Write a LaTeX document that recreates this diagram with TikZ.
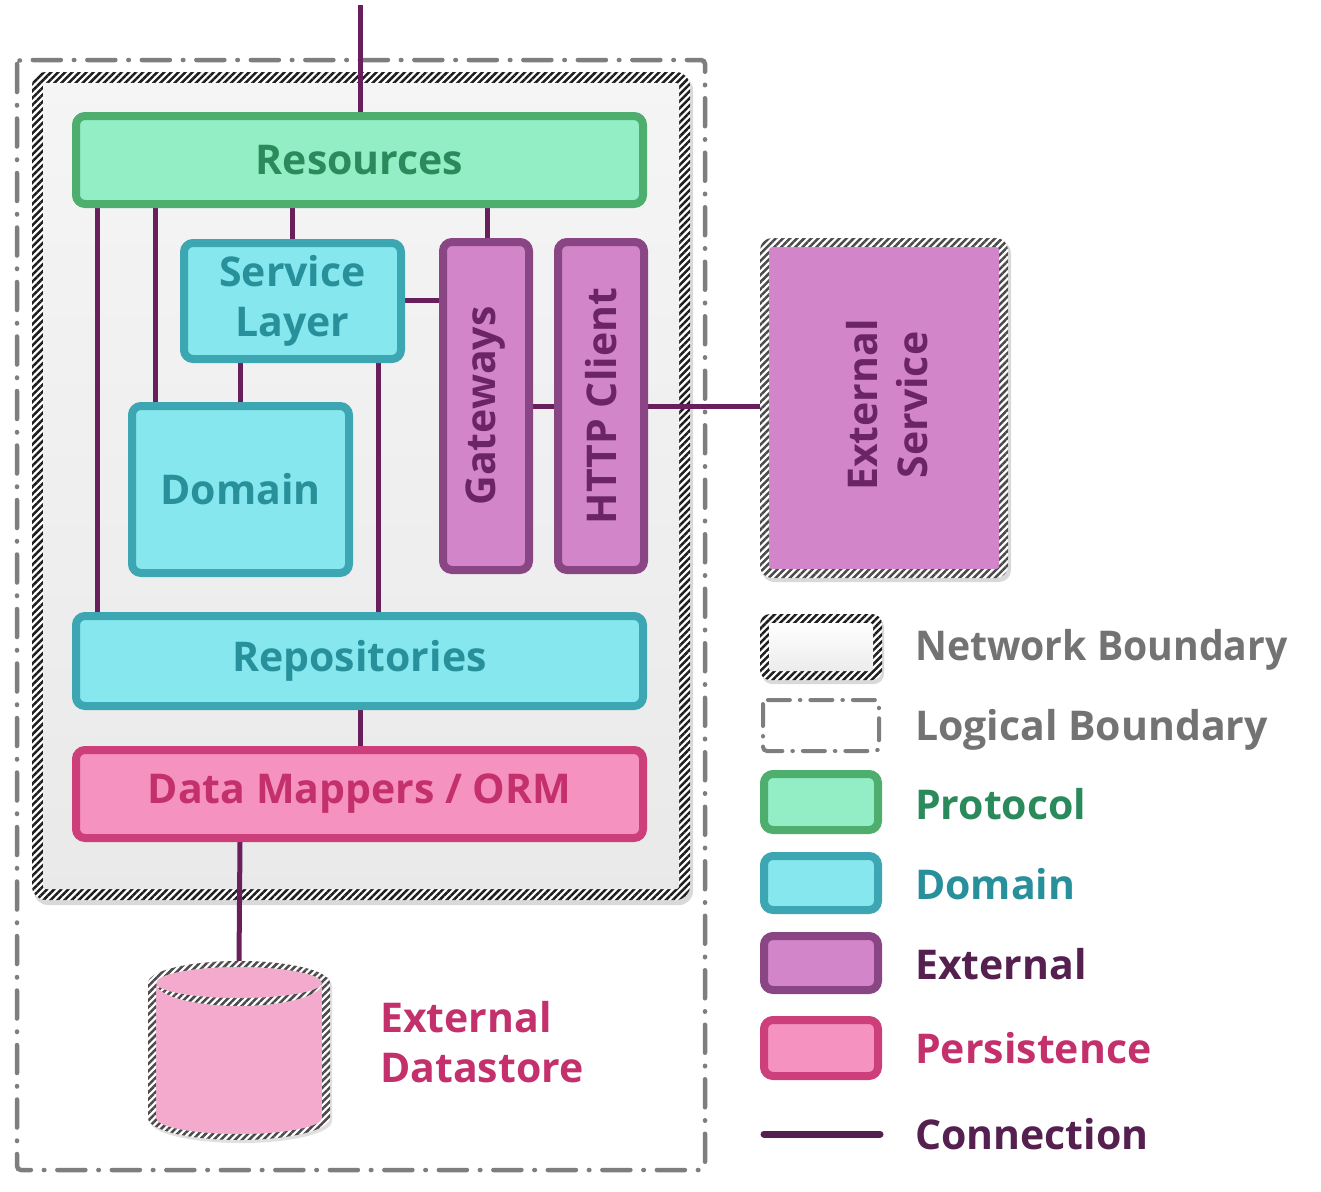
\documentclass[tikz,border=0pt]{standalone}
\usepackage{fontspec}
\setmainfont{Open Sans}
\usetikzlibrary{patterns.meta,shadows}
\definecolor{protoFill}{HTML}{93EDC5}
\definecolor{protoLine}{HTML}{4DAE6E}
\definecolor{protoText}{HTML}{2B8A5B}
\definecolor{domFill}{HTML}{86E8EE}
\definecolor{domLine}{HTML}{3CA6B2}
\definecolor{domText}{HTML}{28909A}
\definecolor{extFill}{HTML}{D385C9}
\definecolor{extLine}{HTML}{8A4585}
\definecolor{extText}{HTML}{6B2566}
\definecolor{extDark}{HTML}{55204F}
\definecolor{perFill}{HTML}{F592BF}
\definecolor{perLine}{HTML}{CD3F7A}
\definecolor{perText}{HTML}{C3306C}
\definecolor{dbFill}{HTML}{F3AACD}
\definecolor{connCol}{HTML}{6A1F5D}
\definecolor{logicCol}{HTML}{7E7E7E}
\definecolor{legendGray}{HTML}{737373}
\definecolor{hatchCol}{HTML}{1E1E1E}
\pgfdeclarelayer{bg}\pgfdeclarelayer{cn}\pgfsetlayers{bg,cn,main}
\newcommand{\hatchrect}[7]{%
  \fill[white, even odd rule, rounded corners=#6pt] (#1,#2) rectangle (#3,#4) [rounded corners=3pt] ({#1+#5},{#2+#5}) rectangle ({#3-#5},{#4-#5});
  \fill[pattern={Lines[angle=45,distance=5pt,line width=2.5pt]}, pattern color=#7, even odd rule, rounded corners=#6pt] (#1,#2) rectangle (#3,#4) [rounded corners=3pt] ({#1+#5},{#2+#5}) rectangle ({#3-#5},{#4-#5});
}
\begin{document}
\begin{tikzpicture}[x=1pt,y=-1pt,
  txt/.style={font={\bfseries\fontsize{41}{50}\selectfont}},
  box/.style={txt, draw, line width=8pt, rounded corners=9pt, align=center, inner sep=0pt,
     drop shadow={shadow xshift=1pt, shadow yshift=-3pt, opacity=0.18}},
  proto/.style={box, draw=protoLine, fill=protoFill, text=protoText},
  dom/.style={box, draw=domLine, fill=domFill, text=domText},
  ext/.style={box, draw=extLine, fill=extFill, text=extText},
  per/.style={box, draw=perLine, fill=perFill, text=perText},
  conn/.style={draw=connCol, line width=5pt},
  logical/.style={draw=logicCol, line width=4.5pt, line cap=round,
     dash pattern=on 28pt off 13pt on 0.5pt off 13pt, rounded corners=4pt},
  lgtext/.style={txt, anchor=base west, inner sep=0pt},
]
\useasboundingbox (0,0) rectangle (1321,1191);

% ---------- boundaries ----------
\begin{pgfonlayer}{bg}
  \fill[white] (0,0) rectangle (1321,1191);
  \draw[logical] (17,60) rectangle (705,1170);
  \fill[black, opacity=0.15, rounded corners=14pt] (34,76) rectangle (693,905);
  \hatchrect{32}{72}{690}{900}{11}{14}{hatchCol}
  \shade[top color=gray!8, bottom color=gray!17, rounded corners=3pt] (43,83) rectangle (679,889);
\end{pgfonlayer}

% ---------- main boxes ----------
\node[proto, minimum width=567pt, minimum height=88pt] (res) at (359.5,160) {Resources};
\node[dom, minimum width=217pt, minimum height=116pt] (svc) at (292.5,301) {Service\\Layer};
\node[dom, minimum width=217pt, minimum height=167pt] (dmn) at (240.5,489.5) {Domain};
\node[ext, minimum width=86pt, minimum height=328pt] (gw) at (486,406) {};
\node[ext, minimum width=86pt, minimum height=328pt] (http) at (601,406) {};
\node[txt, text=extText, rotate=90] (gwl) at (gw.center) {Gateways};
\node[txt, text=extText, rotate=90] (httpl) at (http.center) {HTTP Client};
\node[dom, minimum width=567pt, minimum height=90pt] (repo) at (359.5,661) {Repositories};
\node[per, minimum width=567pt, minimum height=88pt] (dm) at (359.5,794) {Data Mappers / ORM};

% ---------- external service ----------
\fill[black, opacity=0.15, rounded corners=12pt] (762,241) rectangle (1011,582);
\node[minimum width=248pt, minimum height=340pt, inner sep=0pt] (extsvc) at (884,408) {};
\fill[extFill, rounded corners=10pt] (762,240) rectangle (1006,576);
\hatchrect{760}{238}{1008}{578}{9}{12}{hatchCol!80}
\node[txt, text=extText, rotate=90, align=center] (extl) at (887,405) {External\\Service};

% ---------- datastore ----------
\coordinate (dbtop) at (239,962);
\fill[black, opacity=0.12] (150,986) -- (150,1121) arc[start angle=180,end angle=0,x radius=91,y radius=22]
   -- (332,986) arc[start angle=0,end angle=-180,x radius=91,y radius=22] -- cycle;
\fill[dbFill] (148,983) -- (148,1118) arc[start angle=180,end angle=0,x radius=91,y radius=22]
   -- (330,983) arc[start angle=0,end angle=-180,x radius=91,y radius=22] -- cycle;
\fill[white, even odd rule] (148,983) -- (148,1118) arc[start angle=180,end angle=0,x radius=91,y radius=22]
   -- (330,983) arc[start angle=0,end angle=-180,x radius=91,y radius=22] -- cycle
   (156,983) -- (156,1118) arc[start angle=180,end angle=0,x radius=83,y radius=16]
   -- (322,983) arc[start angle=0,end angle=-180,x radius=83,y radius=16] -- cycle;
\fill[pattern={Lines[angle=45,distance=5pt,line width=2.5pt]}, pattern color=hatchCol!80, even odd rule]
   (148,983) -- (148,1118) arc[start angle=180,end angle=0,x radius=91,y radius=22]
   -- (330,983) arc[start angle=0,end angle=-180,x radius=91,y radius=22] -- cycle
   (156,983) -- (156,1118) arc[start angle=180,end angle=0,x radius=83,y radius=16]
   -- (322,983) arc[start angle=0,end angle=-180,x radius=83,y radius=16] -- cycle;
\fill[white] (156,983) arc[start angle=180,end angle=0,x radius=83,y radius=23]
   -- (322,983) arc[start angle=0,end angle=180,x radius=83,y radius=15] -- cycle;
\fill[pattern={Lines[angle=45,distance=5pt,line width=2.5pt]}, pattern color=hatchCol!80]
   (156,983) arc[start angle=180,end angle=0,x radius=83,y radius=23]
   -- (322,983) arc[start angle=0,end angle=180,x radius=83,y radius=15] -- cycle;
\node[txt, text=perText, align=left, anchor=west, inner sep=0pt] (dstxt) at (380,1042) {External\\Datastore};

% ---------- connections ----------
\coordinate (topin) at (360,5);
\begin{pgfonlayer}{cn}
  \draw[conn] (topin) -- (360,0 |- res.north);
  \draw[conn] (97,0 |- res.south) -- (97,0 |- repo.north);
  \draw[conn] (155,0 |- res.south) -- (155,0 |- dmn.north);
  \draw[conn] (292,0 |- res.south) -- (292,0 |- svc.north);
  \draw[conn] (487,0 |- res.south) -- (487,0 |- gw.north);
  \draw[conn] (svc.east |- 0,300) -- (gw.west |- 0,300);
  \draw[conn] (240,0 |- svc.south) -- (240,0 |- dmn.north);
  \draw[conn] (378,0 |- svc.south) -- (378,0 |- repo.north);
  \draw[conn] (gw.east) -- (http.west);
  \draw[conn] (http.east) -- (extsvc.west |- http.east);
  \draw[conn] (360,0 |- repo.south) -- (360,0 |- dm.north);
  \draw[conn] (240,0 |- dm.south) -- (dbtop);
\end{pgfonlayer}

% ---------- legend ----------
\fill[black, opacity=0.15, rounded corners=10pt] (762,617) rectangle (884,684);
\hatchrect{760}{614}{882}{680}{9}{10}{hatchCol}
\shade[top color=white, bottom color=gray!15, rounded corners=3pt] (769,623) rectangle (873,671);
\draw[logical, line width=4pt, dash pattern=on 22pt off 10pt on 0.5pt off 10pt] (763,700) rectangle (879,751);
\node[proto, minimum width=114pt, minimum height=56pt] (lgp) at (821,802) {};
\node[dom, minimum width=114pt, minimum height=54pt] (lgd) at (821,883) {};
\node[ext, minimum width=114pt, minimum height=54pt] (lge) at (821,963) {};
\node[per, minimum width=114pt, minimum height=56pt] (lgs) at (821,1048) {};
\coordinate (lgc1) at (764,1134);
\coordinate (lgc2) at (880,1134);
\draw[conn, draw=extDark, line width=7pt, line cap=round] (lgc1) -- (lgc2);

\node[lgtext, text=legendGray, xscale=0.955] (t1) at (915,660) {Network Boundary};
\node[lgtext, text=legendGray] (t2) at (915,740) {Logical Boundary};
\node[lgtext, text=protoText] (t3) at (915,819) {Protocol};
\node[lgtext, text=domText] (t4) at (915,899) {Domain};
\node[lgtext, text=extDark] (t5) at (915,979) {External};
\node[lgtext, text=perText] (t6) at (915,1063) {Persistence};
\node[lgtext, text=extDark] (t7) at (915,1149) {Connection};
\end{tikzpicture}
\end{document}
